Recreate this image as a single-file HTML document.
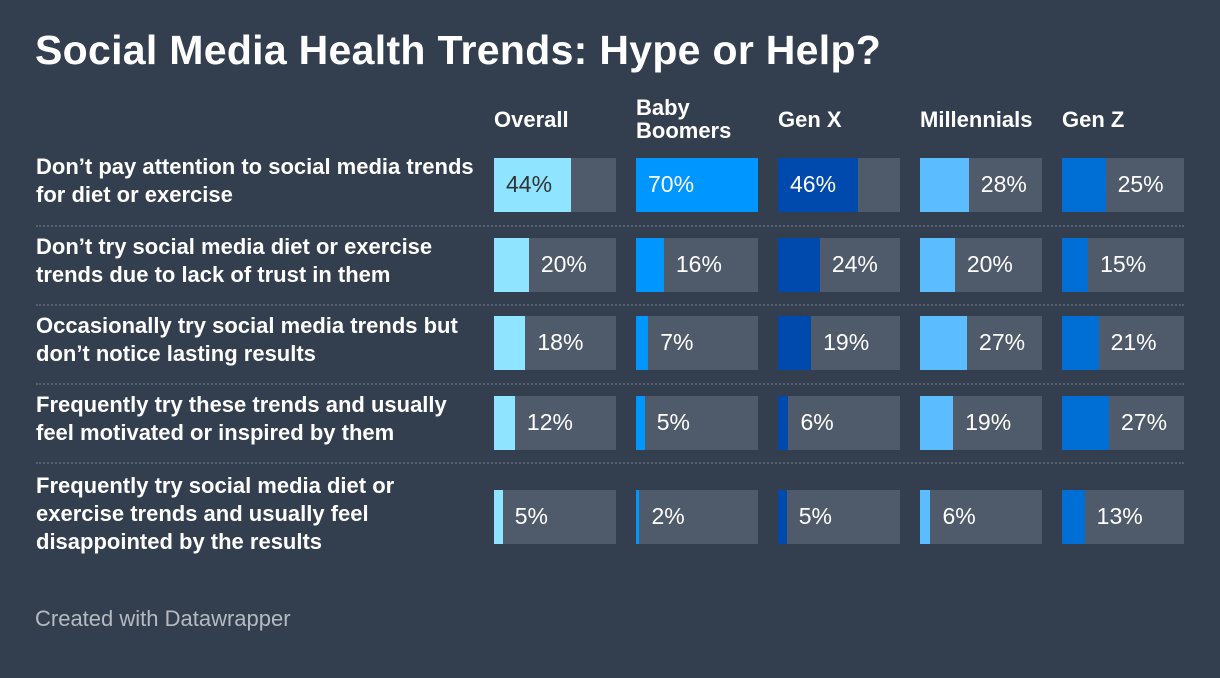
<!DOCTYPE html>
<html><head><meta charset="utf-8">
<style>
body{margin:0;width:1220px;height:678px;background:#333e4f;font-family:"Liberation Sans",Arial,sans-serif;color:#fff;overflow:hidden;position:relative}
#title{position:absolute;left:35px;top:27px;font-size:41px;line-height:46px;margin:0;font-weight:bold;letter-spacing:0.3px}
.abs{position:absolute}
.hdr{font-size:22px;line-height:23px;font-weight:bold}
.rowlab{font-size:22px;line-height:28px;left:36px;width:460px;font-weight:bold}
.val{font-size:23px;line-height:52px}
.sep{position:absolute;left:36px;width:1148px;height:0;border-top:2px dotted #56606f}
#credit{position:absolute;left:35px;top:606px;font-size:22px;color:#b5bac2}
</style></head>
<body>
<h1 id="title">Social Media Health Trends: Hype or Help?</h1>
<div id="chart"></div>
<div id="credit">Created with Datawrapper</div>
<script>
const groups=["Overall","Baby<br>Boomers","Gen X","Millennials","Gen Z"];
const rowLabels=["Don’t pay attention to social media trends<br>for diet or exercise","Don’t try social media diet or exercise<br>trends due to lack of trust in them","Occasionally try social media trends but<br>don’t notice lasting results","Frequently try these trends and usually<br>feel motivated or inspired by them","Frequently try social media diet or<br>exercise trends and usually feel<br>disappointed by the results"];
const overall=[44,20,18,12,5];
const boomers=[70,16,7,5,2];
const genx=[46,24,19,6,5];
const millennials=[28,20,27,19,6];
const genz=[25,15,21,27,13];
const series=[overall,boomers,genx,millennials,genz];
const colors=["#8fe5ff","#0096ff","#004aad","#5bbcff","#006fd5"];
const darkText=[true,false,false,true,false];
const chart=document.getElementById('chart');
const colX=[494,636,778,920,1062], barW=122, barH=54;
const rowY=[158,238,316,396,490];
const sepY=[225,304,383,462];
const rowLabelY=[153,233,312,391,472];
const maxV=70;
const xs=v=>v/maxV*barW;
groups.forEach((g,i)=>{
  const d=document.createElement('div');
  d.className='abs hdr';
  
  
  d.style.left=colX[i]+'px';
  const multi=g.includes('<br>');
  d.style.top=(multi?96:108)+'px';
  d.innerHTML=g;chart.appendChild(d);
});
rowLabels.forEach((r,j)=>{
  const d=document.createElement('div');
  d.className='abs rowlab';
  
  
  d.style.top=rowLabelY[j]+'px';d.innerHTML=r;chart.appendChild(d);
});
sepY.forEach(y=>{
  const s=document.createElement('div');s.className='sep';
  
  
  s.style.top=y+'px';chart.appendChild(s);
});
series.forEach((arr,i)=>{
  arr.forEach((v,j)=>{
    const t=document.createElement('div');t.className='abs';
    
    
    Object.assign(t.style,{left:colX[i]+'px',top:rowY[j]+'px',width:barW+'px',height:barH+'px',background:'#4f5a6a'});
    chart.appendChild(t);
    const w=xs(v);
    const b=document.createElement('div');b.className='abs';
    
    
    Object.assign(b.style,{left:colX[i]+'px',top:rowY[j]+'px',width:w+'px',height:barH+'px',background:colors[i]});
    chart.appendChild(b);
    const l=document.createElement('div');l.className='abs val';
    
    
    const inside=v>=40;
    l.style.top=rowY[j]+'px';
    l.style.left=(colX[i]+(inside?12:w+12))+'px';
    l.style.color=(inside&&darkText[i])?'#333':'#fff';
    l.textContent=v+'%';chart.appendChild(l);
  });
});
</script>
</body></html>
